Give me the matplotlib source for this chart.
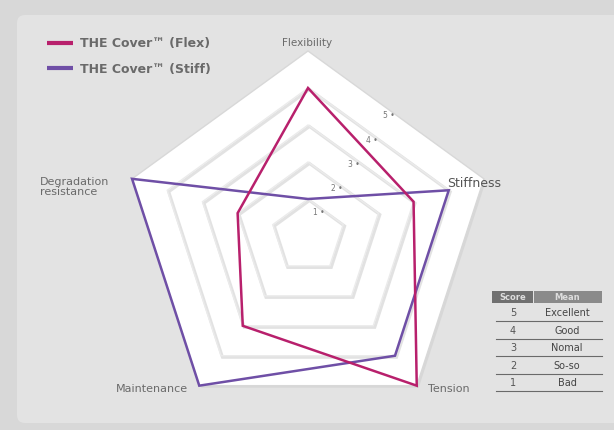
import numpy as np
import matplotlib.pyplot as plt
from matplotlib.patches import Polygon, FancyBboxPatch, Rectangle

# data
axes_labels = ["Flexibility", "Stiffness", "Tension", "Maintenance", "Degradation\nresistance"]
flex = [4, 3, 5, 3, 2]
stiff = [1, 4, 4, 5, 5]
series_names = ["THE Cover\u2122 (Flex)", "THE Cover\u2122 (Stiff)"]
levels = [1, 2, 3, 4, 5]
score_rows = [5, 4, 3, 2, 1]
mean_rows = ["Excellent", "Good", "Nomal", "So-so", "Bad"]

flex_col = "#b8206c"
stiff_col = "#6f4fa6"
txt_col = "#6a6a6a"

# radar geometry in pixel space
cx, cy = 308, 237
unit = 37.0
ang = np.deg2rad(np.arange(5) * 72.0)


def pts(vals):
    v = np.asarray(vals, dtype=float)
    return np.column_stack([cx + v * unit * np.sin(ang), cy - v * unit * np.cos(ang)])


fig = plt.figure(figsize=(6.14, 4.31), dpi=100)
fig.patch.set_facecolor("#d8d8d8")
ax = fig.add_axes([0, 0, 1, 1])
ax.set_xlim(0, 614)
ax.set_ylim(431, 0)
ax.axis("off")

# panel
ax.add_patch(FancyBboxPatch((17, 16), 620, 408, boxstyle="round,pad=0,rounding_size=8",
                            fc="#e3e3e3", ec="none"))

# grid pentagons
ax.add_patch(Polygon(pts([5] * 5) + [2, 2], closed=True, fc="#cfcfcf", ec="none", alpha=0.6))
ax.add_patch(Polygon(pts([5] * 5), closed=True, fc="white", ec="#d8d8d8", lw=1))
for lv in levels[:-1]:
    ax.add_patch(Polygon(pts([lv] * 5) + [1.5, 1.5], closed=True, fill=False,
                         ec="#e2e2e2", lw=2.2))
    ax.add_patch(Polygon(pts([lv] * 5), closed=True, fill=False, ec="#ebebeb", lw=1.0))

# level labels on the edge between Flexibility and Stiffness
mid = np.deg2rad(36)
for lv in levels:
    r = lv * unit * np.cos(np.deg2rad(36))
    x = cx + r * np.sin(mid)
    y = cy - r * np.cos(mid)
    ax.text(x - 1, y, f"{lv} \u2022", fontsize=5.5, color="#777777", ha="right", va="center")

# series
for vals, col in [(stiff, stiff_col), (flex, flex_col)]:
    p = pts(vals)
    ax.add_patch(Polygon(p, closed=True, fill=False, ec=col, lw=1.8, joinstyle="miter"))

# axis labels
ax.text(307, 43, axes_labels[0], fontsize=7.5, color=txt_col, ha="center", va="center")
ax.text(447, 184, axes_labels[1], fontsize=9, color="#555555", ha="left", va="center")
ax.text(428, 389, axes_labels[2], fontsize=8, color=txt_col, ha="left", va="center")
ax.text(188, 389, axes_labels[3], fontsize=8, color=txt_col, ha="right", va="center")
ax.text(40, 187, axes_labels[4], fontsize=8, color=txt_col, ha="left", va="center",
        linespacing=1.1)

# legend
for i, (name, col) in enumerate(zip(series_names, [flex_col, stiff_col])):
    y = 44 + i * 25
    ax.plot([47, 73], [y, y], color=col, lw=3, solid_capstyle="butt")
    ax.text(80, y, name, fontsize=9, color=txt_col, ha="left", va="center", fontweight="bold")

# score table
tx0, tx1, tmid = 492, 602, 533
ax.add_patch(Rectangle((tx0, 292), tmid - tx0, 12, fc="#707070", ec="none"))
ax.add_patch(Rectangle((tmid + 1, 292), tx1 - tmid - 1, 12, fc="#8a8a8a", ec="none"))
ax.text((tx0 + tmid) / 2, 298, "Score", fontsize=6, color="#dddddd", ha="center", va="center",
        fontweight="bold")
ax.text((tmid + tx1) / 2, 298, "Mean", fontsize=6, color="#dddddd", ha="center", va="center",
        fontweight="bold")
for i, (s, m) in enumerate(zip(score_rows, mean_rows)):
    y = 313 + i * 17.6
    ax.text(513, y, str(s), fontsize=7, color="#555555", ha="center", va="center")
    ax.text(567, y, m, fontsize=7, color="#444444", ha="center", va="center")
    ax.plot([tx0 + 4, tx1], [y + 9, y + 9], color="#6a6a6a", lw=0.8)

fig.savefig("out.png", dpi=100, facecolor=fig.get_facecolor())
